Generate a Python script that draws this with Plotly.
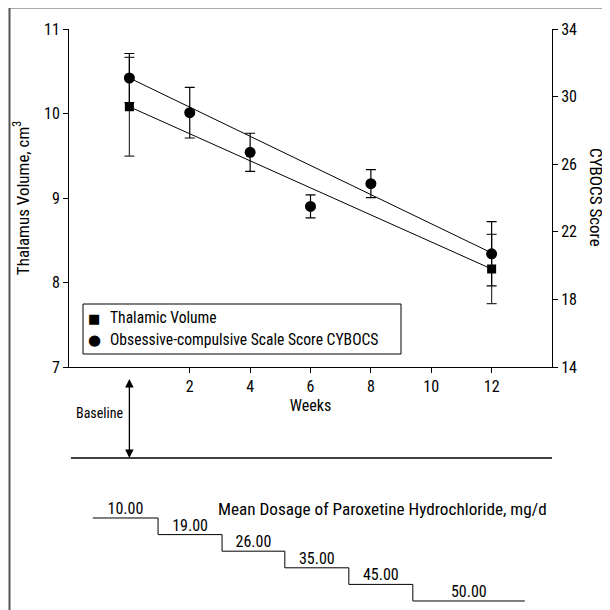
import plotly.graph_objects as go

# ---------------- data ----------------
weeks_cybocs = [0, 2, 4, 6, 8, 12]
cybocs = [31.1, 29.05, 26.7, 23.5, 24.85, 20.7]
cybocs_err = [1.45, 1.5, 1.13, 0.68, 0.83, 1.9]

weeks_thal = [0, 12]
thal_vol = [10.08, 8.16]
thal_err = [0.585, 0.41]

fit_weeks = [0, 12]
cybocs_fit = [31.1, 20.75]
thal_fit = [10.08, 8.16]

dose = [10.00, 19.00, 26.00, 35.00, 45.00, 50.00]
dose_edges = [-1.21, 0.95, 3.07, 5.15, 7.27, 9.39, 13.10]

x_ticks = [2, 4, 6, 8, 10, 12]
y_left_ticks = [7, 8, 9, 10, 11]
y_right_ticks = [14, 18, 22, 26, 30, 34]

FONT = ("Roboto Condensed, Liberation Sans Narrow, Noto Sans Condensed, "
        "Open Sans Condensed, Arial Narrow, Liberation Sans, sans-serif")

OFF = 8  # page body margin of the html page
W, H = 602, 602
ML, MR, MT, MB = 61, 58, 21, 0
PW = W - ML - MR
PH = H - MT - MB


def px(xs):
    """screen x (in the 610 window) -> paper x"""
    return (xs - OFF - ML) / PW


def py(ys):
    """screen y (in the 610 window) -> paper y"""
    return (H - MB - (ys - OFF)) / PH


fig = go.Figure()

# fitted lines
fig.add_trace(go.Scatter(x=fit_weeks, y=cybocs_fit, mode="lines", yaxis="y2",
                         line=dict(color="black", width=1), showlegend=False, hoverinfo="skip"))
fig.add_trace(go.Scatter(x=fit_weeks, y=thal_fit, mode="lines", yaxis="y",
                         line=dict(color="black", width=1), showlegend=False, hoverinfo="skip"))

# CYBOCS points
fig.add_trace(go.Scatter(
    x=weeks_cybocs, y=cybocs, yaxis="y2", mode="markers", name="Obsessive-compulsive Scale Score CYBOCS",
    marker=dict(symbol="circle", size=11, color="black"),
    error_y=dict(type="data", array=cybocs_err, color="black", thickness=1.2, width=5),
    showlegend=False))

# Thalamic volume points
fig.add_trace(go.Scatter(
    x=weeks_thal, y=thal_vol, yaxis="y", mode="markers", name="Thalamic Volume",
    marker=dict(symbol="square", size=9, color="black"),
    error_y=dict(type="data", array=thal_err, color="#333333", thickness=1.2, width=5),
    showlegend=False))

# Dosage staircase
step_idx = list(range(len(dose)))
fig.add_trace(go.Scatter(
    x=dose_edges, y=step_idx + [step_idx[-1]], xaxis="x3", yaxis="y3", mode="lines",
    line=dict(color="black", width=1, shape="hv"), showlegend=False, hoverinfo="skip"))
mids = [(dose_edges[i] + dose_edges[i + 1]) / 2 for i in range(len(dose))]
fig.add_trace(go.Scatter(
    x=mids, y=step_idx, xaxis="x3", yaxis="y3", mode="text",
    text=[f"{d:.2f}" for d in dose], textposition="top center",
    textfont=dict(family=FONT, size=16, color="black"), showlegend=False, hoverinfo="skip"))

main_bottom = py(367)

axis_common = dict(showline=True, linecolor="black", linewidth=1, ticks="outside",
                   tickcolor="black", ticklen=5, tickwidth=1, showgrid=False, zeroline=False,
                   tickfont=dict(family=FONT, size=16, color="black"))

# y3: step i drawn at screen y = 518 + 16.6*i
STEP0, STEPDY = 518 - OFF, 16.6
y3_dom_top = 0.2
y3_bottom_px = H - MB
y3_top_px = H - MB - y3_dom_top * PH

fig.update_layout(
    width=W, height=H,
    margin=dict(l=ML, r=MR, t=MT, b=MB, autoexpand=False),
    paper_bgcolor="white", plot_bgcolor="white",
    font=dict(family=FONT, size=16, color="black"),
    showlegend=False,
    xaxis=dict(range=[-2, 14], tickvals=x_ticks, domain=[0, 1], anchor="y",
               title=dict(text="Weeks", standoff=1, font=dict(family=FONT, size=16)),
               **axis_common),
    yaxis=dict(range=[7, 11], tickvals=y_left_ticks, domain=[main_bottom, 1], anchor="x",
               title=dict(text="Thalamus Volume, cm<sup>3</sup>", standoff=10,
                          font=dict(family=FONT, size=17)),
               **axis_common),
    yaxis2=dict(range=[14, 34], tickvals=y_right_ticks, overlaying="y", side="right",
                anchor="x", **axis_common),
    xaxis3=dict(range=[-2, 14], domain=[0, 1], anchor="y3", visible=False),
    yaxis3=dict(range=[(y3_bottom_px - STEP0) / STEPDY, (y3_top_px - STEP0) / STEPDY],
                domain=[0, y3_dom_top], anchor="x3", visible=False),
)

shapes = []
# outer frame (left and top edges visible)
shapes.append(dict(type="rect", xref="paper", yref="paper",
                   x0=px(9.5), x1=px(640), y0=py(640), y1=py(7.5),
                   line=dict(color="#555555", width=2), layer="below"))
# horizontal separator line
shapes.append(dict(type="line", xref="x domain", yref="paper", x0=0.004, x1=1,
                   y0=py(458), y1=py(458), line=dict(color="black", width=1.5)))
# legend box
shapes.append(dict(type="rect", xref="paper", yref="paper",
                   x0=px(83), x1=px(401), y0=py(354), y1=py(304),
                   line=dict(color="black", width=1), fillcolor="white"))
fig.update_layout(shapes=shapes)


def label(xs, ys, text, size, xanchor="center", yanchor="middle", family=FONT, **kw):
    return dict(x=px(xs), y=py(ys), xref="paper", yref="paper", text=text,
                xanchor=xanchor, yanchor=yanchor, showarrow=False,
                font=dict(family=family, size=size, color="black"), **kw)


ann = []
# baseline arrow
ann.append(dict(x=0, y=py(458), xref="x", yref="paper", ax=0, ay=-(458 - 368),
                axref="pixel", ayref="pixel", showarrow=True, arrowhead=2, arrowside="end+start",
                arrowsize=1.3, arrowwidth=1.3, arrowcolor="black", text=" "))
ann.append(label(100, 413, "Baseline", 14))
# dosage title
ann.append(label(216, 509, "Mean Dosage of Paroxetine Hydrochloride, mg/d", 17.2, xanchor="left"))
# right axis title
ann.append(label(596, 197, "CYBOCS Score", 17, textangle=90))
# legend contents
ann.append(label(94, 318, "■", 13, family="DejaVu Sans"))
ann.append(label(94, 340, "●", 15, family="DejaVu Sans"))
ann.append(label(108, 318, "Thalamic Volume", 15.6, xanchor="left"))
ann.append(label(108, 340, "Obsessive-compulsive Scale Score CYBOCS", 15.6, xanchor="left"))
fig.update_layout(annotations=ann)

fig.write_html("out.html")
